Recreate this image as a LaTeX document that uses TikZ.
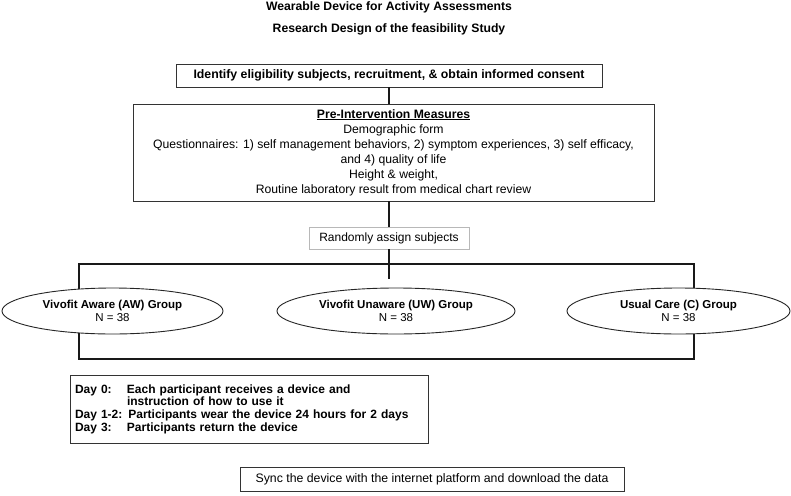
\documentclass[tikz,border=0pt]{standalone}
\usepackage{fontspec}
\setmainfont{Liberation Sans}
\usetikzlibrary{shapes.geometric}
\newcommand{\fs}[2]{\fontsize{#1}{#2}\selectfont}
\tikzset{
  boxnode/.style={draw=black!80, line width=0.9pt, rectangle, inner sep=0pt, align=center},
  grpnode/.style={draw=black!85, line width=0.9pt, ellipse, fill=white, inner sep=0pt, align=center, font=\fs{11.5}{13}},
  link/.style={line width=2.6pt, black!90},
  titlenode/.style={font=\fs{12.2}{14}\bfseries, inner sep=0pt}
}
\begin{document}
\begin{tikzpicture}[x=1pt, y=-1pt]
\useasboundingbox (0,0) rectangle (791,495);
% titles
\node[titlenode] (t1) at (389,7.5) {Wearable Device for Activity Assessments};
\node[titlenode] (t2) at (389,29.5) {Research Design of the feasibility Study};
% boxes
\node[boxnode, minimum width=426pt, minimum height=23pt, font=\fs{12.3}{14}\bfseries] (elig) at (389,75.5)
  {Identify eligibility subjects, recruitment, \& obtain informed consent};
\node[boxnode, minimum width=521pt, minimum height=97pt, font=\fs{12.2}{15}] (pre) at (393.5,152.5)
  {\textbf{\underline{Pre-Intervention Measures}}\\
   Demographic form\\
   Questionnaires: 1) self management behaviors, 2) symptom experiences, 3) self efficacy,\\
   and 4) quality of life\\
   Height \& weight,\\
   Routine laboratory result from medical chart review};
\node[boxnode, draw=black!28, line width=0.8pt, minimum width=160pt, minimum height=22pt, font=\fs{12}{14}] (rand) at (389,238)
  {Randomly assign subjects};
% frame
\coordinate (fa) at (79,264);
\coordinate (fb) at (694,359);
\coordinate (stub) at (389,279);
\draw[link, line join=miter] (fa) rectangle (fb);
\draw[link] (elig.south) -- (pre.north -| elig.south);
\draw[link] (pre.south -| rand.north) -- (rand.north);
\draw[link] (rand.south) -- (stub);
% groups
\node[grpnode, minimum width=221pt, minimum height=46pt] (aw) at (112.5,311)
  {\textbf{Vivofit Aware (AW) Group}\\N = 38};
\node[grpnode, minimum width=238pt, minimum height=46pt] (uw) at (396,311)
  {\textbf{Vivofit Unaware (UW) Group}\\N = 38};
\node[grpnode, minimum width=223pt, minimum height=46pt] (uc) at (678.5,311)
  {\textbf{Usual Care (C) Group}\\N = 38};
% day box
\node[boxnode, minimum width=358pt, minimum height=68pt, text width=348pt, align=left, font=\fs{12}{12.7}\bfseries] (days) at (249,409)
  {\makebox[52pt][l]{Day 0:}Each participant receives a device and\\
   \makebox[52pt][l]{}instruction of how to use it\\
   Day 1-2: Participants wear the device 24 hours for 2 days\\
   \makebox[52pt][l]{Day 3:}Participants return the device\\[2pt]};
% sync box
\node[boxnode, minimum width=384pt, minimum height=24pt, font=\fs{12.3}{14}] (sync) at (432,479)
  {Sync the device with the internet platform and download the data};
\end{tikzpicture}
\end{document}
